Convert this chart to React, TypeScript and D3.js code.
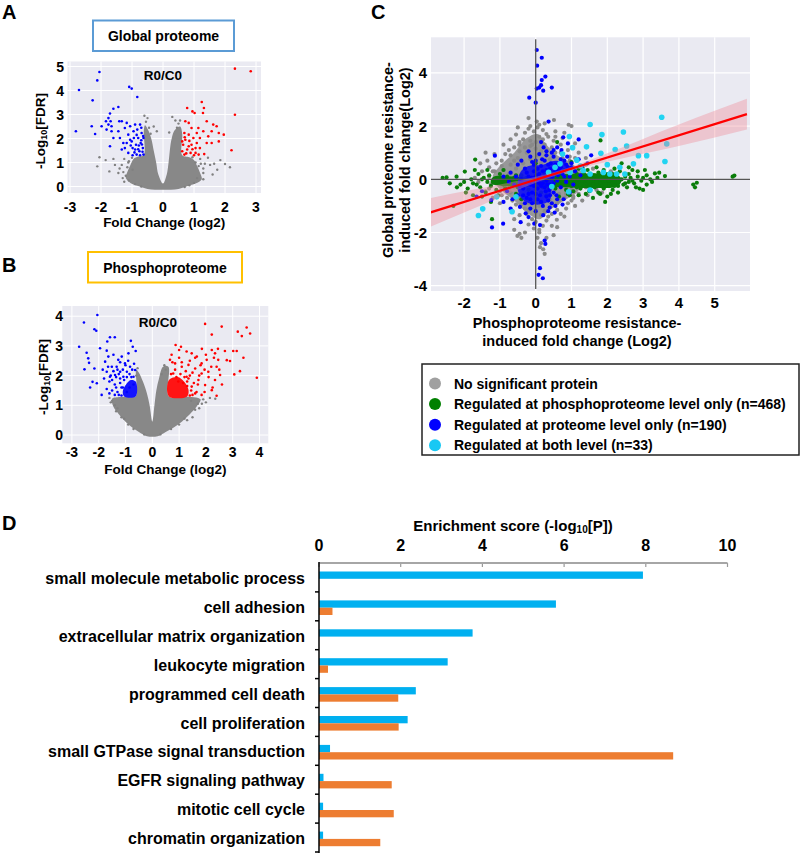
import React from "react";
import * as d3 from "d3";

const FONT = "'Liberation Sans', Arial, Helvetica, sans-serif";

// ---------- Panel A: global proteome volcano ----------
const aTicksX = [-3, -2, -1, 0, 1, 2, 3];
const aTicksY = [0, 1, 2, 3, 4, 5];
const aGrayCloud: [number, number][] = [
  [0, 0.12], [-0.15, 0.5], [-0.22, 1.0], [-0.3, 1.5], [-0.38, 2.0], [-0.48, 2.35], [-0.58, 2.55], [-0.62, 2.3],
  [-0.62, 1.3], [-0.8, 1.25], [-0.95, 1.15], [-1.05, 0.9], [-1.15, 0.6], [-1.2, 0.35], [-1.05, 0.15], [-0.8, 0.02],
  [-0.5, -0.1], [0, -0.14], [0.5, -0.1], [0.8, 0.02], [1.05, 0.12], [1.25, 0.3], [1.2, 0.55], [1.1, 0.85],
  [1.0, 1.1], [0.85, 1.22], [0.62, 1.3], [0.62, 2.2], [0.55, 2.5], [0.38, 2.35], [0.28, 2.0], [0.22, 1.5],
  [0.18, 1.0], [0.12, 0.5],
];
const aGray: [number, number][] = [
  [-2.12, 0.84], [-2.05, 1.22], [-1.85, 1.1], [-1.73, 0.63], [-1.6, 1.15], [-1.55, 0.9], [-1.44, 0.56], [-1.4, 0.75],
  [-1.33, 0.9], [-1.3, 0.35], [-1.25, 1.15], [-1.2, 0.45], [-1.15, 0.8], [-1.1, 1.05], [-1.0, 1.2], [-0.98, 0.7],
  [-0.6, 2.95], [-0.5, 2.85], [-0.55, 2.7], [-0.45, 2.45], [-0.4, 2.2], [-0.9, 0.1], [-0.7, 0.0], [-1.1, 0.25],
  [0.3, 2.9], [0.4, 2.75], [0.5, 2.62], [0.45, 2.45], [0.55, 2.75], [0.95, 1.22], [1.05, 1.0], [1.15, 0.85],
  [1.2, 1.15], [1.3, 0.56], [1.35, 0.95], [1.45, 1.2], [1.52, 0.9], [1.6, 0.5], [1.65, 0.95], [1.75, 0.7],
  [1.85, 1.1], [2.0, 0.94], [2.16, 0.8], [1.1, 0.35], [1.0, 0.15], [0.85, 0.05], [1.3, 0.3], [0.7, -0.02],
  [-1.25, 0.2], [-1.28, 0.6], [-1.12, 1.0], [-0.2, 2.3], [0.2, 2.25], [1.3, 0.75], [1.22, 0.95], [-0.3, 2.5],
];
const aBlue: [number, number][] = [
  [-2.05, 4.77], [-2.12, 4.42], [-2.71, 4.02], [-2.27, 3.59], [-1.09, 4.15], [-1.01, 4.08], [-0.83, 3.73],
  [-1.44, 3.31], [-1.6, 3.24], [-1.71, 3.04], [-1.76, 2.85], [-2.81, 2.3], [-2.3, 2.51], [-2.19, 2.19],
  [-1.98, 2.51], [-1.84, 2.72], [-1.82, 2.37], [-1.76, 2.58], [-1.69, 2.72], [-1.66, 2.51], [-1.66, 2.3],
  [-1.71, 1.68], [-1.6, 2.02], [-1.41, 2.72], [-1.33, 2.72], [-1.44, 2.3], [-1.39, 2.02], [-1.33, 1.54],
  [-1.23, 2.44], [-1.17, 2.65], [-1.12, 2.16], [-1.06, 2.51], [-1.01, 1.88], [-0.98, 1.6], [-0.94, 2.02],
  [-0.9, 2.58], [-0.87, 1.74], [-0.83, 2.37], [-0.8, 2.02], [-0.76, 1.47], [-0.74, 2.58], [-0.72, 1.81],
  [-0.69, 2.23], [-0.65, 1.6], [-0.63, 2.02], [-0.63, 1.33], [-1.12, 1.4], [-1.23, 1.6], [-1.28, 1.81],
  [-0.85, 1.33], [-0.98, 1.3], [-0.74, 1.3], [-1.04, 1.71], [-0.9, 1.54], [-0.78, 1.71], [-0.7, 1.93],
  [-1.17, 1.81], [-0.66, 1.45], [-0.7, 2.45], [-0.95, 2.3], [-0.85, 2.15], [-0.68, 1.75], [-0.8, 1.55],
  [-0.92, 1.42], [-1.06, 1.95], [-0.64, 2.1],
];
const aRed: [number, number][] = [
  [2.32, 4.91], [2.83, 4.8], [2.32, 2.99], [2.21, 1.51], [1.25, 3.52], [1.32, 3.27], [0.95, 3.13], [1.02, 3.06],
  [0.78, 3.27], [1.29, 3.06], [0.72, 2.72], [0.83, 2.65], [1.62, 2.58], [1.73, 2.51], [1.96, 2.16], [1.8, 2.23],
  [1.41, 2.72], [1.14, 2.44], [1.09, 2.23], [1.3, 2.3], [1.46, 2.09], [1.57, 1.81], [1.41, 1.81], [1.33, 1.35],
  [1.19, 1.6], [0.98, 2.02], [0.92, 1.74], [0.83, 2.16], [0.72, 1.95], [0.65, 1.74], [0.62, 1.47], [0.78, 1.54],
  [0.89, 1.4], [1.05, 1.4], [1.09, 1.81], [0.69, 2.23], [0.92, 2.44], [1.05, 1.6], [0.69, 1.33], [0.83, 1.68],
  [1.19, 2.02], [0.62, 1.88], [1.57, 2.3], [1.8, 1.88], [0.75, 1.38], [0.95, 1.55], [0.7, 2.05], [1.15, 1.33],
  [0.85, 1.9], [1.0, 1.3],
];

// ---------- Panel B: phosphoproteome volcano ----------
const bTicksX = [-3, -2, -1, 0, 1, 2, 3, 4];
const bTicksY = [0, 1, 2, 3, 4];
const bGrayCloud: [number, number][] = [
  [0, 0.45], [-0.1, 1.0], [-0.2, 1.4], [-0.35, 1.8], [-0.5, 2.1], [-0.6, 2.2], [-0.62, 1.3], [-0.9, 1.3],
  [-1.2, 1.28], [-1.5, 1.22], [-1.45, 0.95], [-1.25, 0.7], [-1.0, 0.45], [-0.75, 0.25], [-0.5, 0.1],
  [-0.2, -0.04], [0.2, -0.04], [0.5, 0.1], [0.8, 0.25], [1.1, 0.45], [1.4, 0.7], [1.65, 0.95], [1.8, 1.2],
  [1.2, 1.3], [0.62, 1.3], [0.6, 2.3], [0.4, 2.3], [0.25, 1.9], [0.15, 1.5], [0.08, 1.0],
];
const bGray: [number, number][] = [
  [-1.6, 1.25], [-1.55, 1.1], [-1.4, 1.0], [-1.35, 0.8], [-1.15, 0.6], [-0.9, 0.35], [1.6, 0.85], [1.7, 1.05],
  [1.9, 1.2], [2.0, 1.1], [2.15, 1.25], [2.35, 1.22], [1.5, 0.6], [1.3, 0.5], [1.45, 1.15], [-0.55, 2.25],
  [-0.6, 2.0], [0.45, 2.35], [0.5, 2.2], [0.35, 2.05], [1.75, 0.9], [1.85, 1.05], [-1.5, 1.15], [-1.3, 0.9],
  [-1.05, 0.55], [-0.7, 0.2], [0.7, 0.2], [1.0, 0.35], [1.2, 0.55], [-0.3, 0.02], [0.3, 0.02],
];
const bBlueCore: [number, number][] = [
  [-1.05, 1.3], [-0.62, 1.3], [-0.62, 1.8], [-0.8, 1.85], [-0.98, 1.7], [-1.1, 1.48],
];
const bRedCore: [number, number][] = [
  [0.62, 1.3], [1.3, 1.3], [1.35, 1.52], [1.18, 1.8], [0.95, 1.95], [0.62, 1.85],
];
const bBlue: [number, number][] = [
  [-2.05, 4.04], [-2.55, 3.79], [-2.16, 3.56], [-2.09, 3.51], [-2.73, 2.97], [-2.45, 2.77], [-2.39, 2.58],
  [-2.53, 2.21], [-2.36, 2.43], [-2.16, 2.24], [-2.23, 1.79], [-2.32, 1.6], [-1.89, 1.35], [-2.07, 1.74],
  [-1.58, 3.29], [-1.4, 3.29], [-1.68, 3.15], [-1.95, 2.92], [-1.7, 2.84], [-0.8, 3.17], [-0.62, 2.83],
  [-0.73, 2.97], [-1.76, 2.47], [-1.64, 2.64], [-1.45, 2.7], [-1.27, 2.53], [-1.14, 2.64], [-1.02, 2.41],
  [-0.89, 2.75], [-1.33, 2.3], [-1.51, 2.3], [-1.7, 2.13], [-1.58, 1.96], [-1.39, 2.02], [-1.2, 2.13],
  [-1.08, 1.96], [-0.95, 2.13], [-0.83, 2.3], [-0.7, 1.96], [-0.64, 2.19], [-1.5, 1.5], [-1.4, 1.7],
  [-1.3, 1.45], [-1.2, 1.9], [-1.15, 1.6], [-1.1, 2.2], [-1.25, 2.05], [-1.35, 1.95], [-1.45, 2.15],
  [-1.55, 2.0], [-1.6, 1.8], [-1.7, 1.55], [-1.8, 1.9], [-1.85, 2.2], [-0.95, 1.95], [-0.85, 2.05],
  [-0.75, 2.2], [-0.68, 2.4], [-0.9, 2.5], [-1.0, 2.35], [-1.3, 2.2], [-0.78, 1.95], [-0.7, 1.7],
  [-0.85, 1.6], [-0.95, 1.45], [-1.05, 1.85], [-1.65, 2.3], [-1.2, 2.45], [-1.25, 1.35], [-1.4, 1.35],
  [-1.6, 1.4], [-1.35, 1.6], [-1.5, 1.85], [-1.15, 1.33], [-1.2, 1.75], [-1.1, 1.6],
];
const bRed: [number, number][] = [
  [1.97, 3.74], [2.59, 3.65], [2.22, 3.38], [3.52, 3.62], [3.19, 3.48], [3.65, 3.42], [3.34, 3.33], [3.9, 1.93],
  [3.4, 2.6], [3.02, 2.83], [3.15, 2.83], [2.71, 2.83], [2.9, 2.49], [3.06, 2.04], [3.27, 2.15], [2.78, 2.52],
  [2.22, 2.86], [2.34, 2.75], [2.46, 2.53], [2.4, 2.3], [2.53, 2.02], [2.34, 1.85], [2.4, 1.32], [2.03, 2.53],
  [1.84, 2.41], [1.66, 2.64], [1.47, 2.75], [1.28, 2.81], [1.07, 2.97], [0.87, 3.03], [1.0, 2.86], [0.72, 2.7],
  [0.66, 2.53], [0.85, 2.41], [1.1, 2.3], [1.35, 2.36], [1.6, 2.24], [1.84, 2.07], [2.09, 2.13], [1.72, 1.85],
  [1.47, 1.63], [1.97, 1.68], [2.22, 1.51], [1.6, 1.4], [1.84, 1.35], [1.28, 1.96], [0.78, 2.07], [0.97, 1.8],
  [1.45, 1.5], [1.55, 1.75], [1.65, 1.45], [1.75, 2.0], [1.5, 2.1], [1.35, 1.9], [1.25, 2.15], [1.1, 2.45],
  [1.0, 2.6], [0.85, 2.2], [0.75, 2.45], [0.7, 2.05], [1.4, 2.5], [1.6, 2.6], [1.8, 2.35], [1.95, 2.2],
  [2.1, 1.95], [2.2, 2.3], [2.25, 1.6], [1.95, 1.45], [1.7, 1.7], [1.3, 1.65], [0.9, 1.95], [1.15, 1.75],
  [2.5, 2.2], [2.6, 1.7], [2.0, 2.7], [2.3, 2.6], [1.85, 2.9], [2.45, 2.9], [1.5, 1.35], [1.4, 2.0],
  [1.4, 1.33], [1.3, 1.8], [1.2, 1.95], [1.05, 2.05],
];

// ---------- Panel C: phospho vs global scatter ----------
const cTicksX = [-2, -1, 0, 1, 2, 3, 4, 5];
const cTicksY = [-4, -2, 0, 2, 4];
const cGrayCore: [number, number][] = [
  [-1.0, 0.5], [-0.6, 1.0], [-0.25, 1.55], [0.05, 1.7], [0.3, 1.3], [0.6, 0.9], [1.05, 0.55], [1.35, 0.1],
  [1.15, -0.5], [0.8, -0.8], [0.4, -1.15], [0.1, -1.5], [-0.25, -1.25], [-0.6, -0.8], [-1.05, -0.3], [-1.2, 0.1],
];
const cGreenCore: [number, number][] = [
  [-1.2, 0.08], [-0.4, 0.1], [0.6, 0.18], [1.4, 0.22], [2.1, 0.18], [2.4, 0.02], [2.3, -0.25], [1.6, -0.33],
  [0.8, -0.3], [0.0, -0.28], [-0.8, -0.26], [-1.25, -0.15],
];
const cBlueCore: [number, number][] = [
  [-0.42, 0.28], [-0.2, 0.5], [0.2, 0.55], [0.55, 0.7], [0.88, 0.6], [0.95, 0.35], [0.6, 0.22], [0.45, -0.35],
  [0.4, -0.78], [0.1, -0.95], [-0.32, -0.82], [-0.5, -0.4],
];
const cGray: [number, number][] = [
  [0.03, 2.17], [0.1, 2.05], [0.51, 2.23], [0.92, 2.05], [-0.55, 1.68], [-0.46, 1.3], [-0.2, 1.9], [-0.05, 1.8],
  [0.2, 1.85], [0.35, 1.6], [-0.35, 1.5], [-0.6, 1.2], [-0.85, 0.95], [-1.1, 0.6], [-1.2, 0.3], [-1.3, 0.1],
  [-1.25, -0.2], [-1.0, -0.45], [-0.8, -0.7], [-0.55, -0.95], [-0.51, -2.13], [-0.45, -2.05], [0.21, -2.63],
  [0.1, -1.9], [0.59, -1.52], [0.3, -1.55], [0.0, -1.25], [-0.3, -1.1], [0.7, -1.3], [0.85, -1.1], [1.0, -0.8],
  [1.2, -0.55], [1.4, -0.3], [1.5, 0.0], [1.3, 0.45], [1.1, 0.8], [0.9, 1.1], [0.7, 1.3], [0.5, 1.45],
  [0.25, 1.3], [0.0, 1.15], [-0.25, 1.0], [-0.5, 0.8], [-0.7, 0.55], [-0.9, 0.35], [-1.05, 0.05], [-0.95, -0.25],
  [-0.7, -0.5], [-0.45, -0.7], [-0.2, -0.9], [0.1, -1.0], [0.4, -1.05], [0.6, -0.9], [0.8, -0.7], [1.0, -0.4],
  [1.15, -0.1], [1.1, 0.25], [0.95, 0.55], [0.75, 0.8], [0.55, 1.0], [0.3, 1.1], [0.05, 0.9], [-0.15, 0.75],
  [-0.35, 0.6], [-0.55, 0.4], [-0.75, 0.2], [-0.8, -0.05], [-0.6, -0.3], [-0.35, -0.45], [-0.1, -0.6],
  [0.15, -0.7], [0.4, -0.75], [0.65, -0.55], [0.85, -0.35], [0.9, -0.05], [0.8, 0.3], [0.6, 0.6], [0.4, 0.75],
  [0.15, 0.6], [-0.05, 0.45], [-0.3, 0.3], [-0.5, 0.1], [-0.4, -0.15], [-0.2, -0.3], [0.0, -0.4], [0.3, -0.45],
  [0.55, -0.3], [0.65, 0.05], [0.45, 0.3], [0.2, 0.35], [-0.1, 0.15], [0.1, 0.05], [0.3, -0.1], [-1.5, 0.3],
  [-1.6, -0.1], [-1.4, -0.45], [-1.2, -0.7], [1.6, 0.4], [1.8, 0.2], [2.0, -0.1], [1.7, -0.4], [-0.9, 1.3],
  [-1.35, 0.7], [0.3, 1.7], [-0.15, 1.45], [0.15, -1.35], [-0.1, -1.5], [0.45, -1.3], [-0.65, -1.2],
  [0.05, -2.2], [0.15, -2.4], [0.25, -2.8], [-0.4, -2.2], [0.55, 1.8], [0.75, 1.55], [-0.3, 1.75], [0.1, 1.6],
  [-0.7, 0.9], [1.2, 1.0], [1.4, 0.8], [-0.6, -1.5], [-0.2, -1.7], [0.45, -1.75], [0.8, -1.4], [1.1, -1.0],
  [1.3, -0.8], [-1.0, -0.9], [-1.15, 0.95], [-0.75, 1.1], [-0.95, 0.7], [-1.1, -0.15], [-0.85, -0.3],
  [1.25, 0.15], [1.35, -0.15], [0.95, 0.85], [-0.45, 1.05], [-0.15, 1.25], [0.15, 1.05], [-0.25, -1.3],
  [0.6, -1.15], [0.25, -1.2], [-0.45, -1.35], [-0.65, -0.8], [1.05, -0.65], [0.2, 1.5], [-0.1, 1.3],
  [-0.15, 2.0], [0.05, 1.95], [0.25, 2.1], [-0.3, 1.2], [-0.6, 0.7], [-0.95, 0.5], [-1.15, 0.3], [-1.3, 0.45],
  [-0.45, 1.4], [0.0, 1.4], [0.45, 1.2], [0.7, 1.0], [0.95, 0.7], [1.2, 0.4], [1.4, 0.55], [1.05, -0.7],
  [0.85, -0.55], [0.65, -0.8], [0.9, -0.9], [0.35, -1.4], [0.0, -1.6], [-0.2, -1.15], [-0.4, -0.95],
  [-0.75, -0.35], [-0.95, -0.6], [-1.3, -0.35], [0.1, -2.0], [0.2, -1.75], [-0.05, -1.85], [0.3, -2.2],
  [0.12, -2.55], [-0.3, -2.0], [0.6, -1.8], [0.5, -2.1], [-0.6, -1.9], [0.8, 1.75], [1.1, 1.35], [0.55, 1.6],
  [-0.5, 1.95], [-0.2, 2.3], [1.0, 2.0], [-0.7, 1.5], [-1.4, 1.0], [-1.55, 0.6], [-1.7, 0.05], [1.6, 0.0],
  [1.75, -0.15], [1.85, -0.5], [2.1, 0.3], [1.45, -0.6],
];
const cGreen: [number, number][] = [
  [-2.6, 0.05], [-2.49, 0.07], [-2.21, 0.1], [-1.98, 0.29], [-1.69, 0.74], [-2.3, -1.0], [-1.22, -1.5],
  [-2.1, -0.2], [-1.9, -0.35], [-1.8, 0.0], [-1.75, -0.15], [-1.6, 0.2], [-1.55, -0.3], [-1.45, 0.05],
  [-1.4, -0.5], [-1.3, 0.15], [-1.25, -0.25], [-1.15, 0.0], [-1.1, -0.4], [-1.0, 0.2], [-0.95, -0.15],
  [-0.85, -0.35], [-0.8, 0.1], [-0.7, -0.2], [-0.6, 0.05], [-0.5, -0.3], [-0.4, 0.15], [-0.3, -0.1],
  [-0.2, -0.4], [-0.1, 0.05], [0.0, -0.2], [0.1, 0.1], [0.2, -0.3], [0.3, 0.0], [0.4, -0.15], [0.5, 0.15],
  [0.55, -0.35], [0.6, -0.05], [0.7, 0.2], [0.75, -0.2], [0.8, 0.05], [0.85, -0.4], [0.9, -0.1], [0.95, 0.15],
  [1.0, -0.25], [1.05, 0.0], [1.1, 0.3], [1.15, -0.15], [1.2, 0.1], [1.25, -0.35], [1.3, -0.05], [1.35, 0.2],
  [1.4, -0.2], [1.45, 0.05], [1.5, -0.45], [1.55, -0.1], [1.6, 0.15], [1.65, -0.3], [1.7, 0.0], [1.75, 0.25],
  [1.8, -0.15], [1.85, 0.1], [1.9, -0.35], [1.95, -0.05], [2.0, 0.2], [2.05, -0.2], [2.1, 0.05], [2.15, -0.4],
  [2.2, -0.1], [2.25, 0.15], [2.3, -0.25], [2.4, 0.0], [2.5, 0.1], [2.55, -0.3], [2.65, 0.05], [2.75, -0.15],
  [2.85, 0.1], [2.95, -0.05], [3.0, -0.4], [3.1, 0.15], [3.2, 0.0], [3.33, 0.22], [3.45, 0.25], [3.61, 0.12],
  [1.94, -0.85], [1.81, 1.46], [1.0, 0.65], [0.6, 1.4], [0.0, 0.6], [-0.4, -0.75], [2.2, 0.4], [2.4, 0.6],
  [1.6, -0.7], [0.3, -0.6], [0.65, -0.65], [1.2, -0.6], [-1.25, -0.85], [-1.75, -0.6], [4.4, -0.2],
  [4.5, -0.13], [4.45, -0.3], [5.5, 0.1], [5.55, 0.14], [0.45, 0.25], [0.8, 0.35], [1.3, 0.45], [1.9, 0.35],
  [2.7, 0.35], [2.9, -0.35], [1.05, -0.45], [0.35, 0.3], [0.15, -0.5], [-0.55, -0.55], [-1.05, -0.6],
  [-0.9, 0.35], [0.25, 0.25], [0.95, -0.6], [1.45, 0.35], [1.75, -0.5], [2.1, -0.55], [2.35, 0.3], [2.6, -0.1],
  [0.65, -0.15], [0.85, 0.1], [1.1, -0.05], [1.25, 0.05], [1.5, 0.1], [1.7, -0.1], [2.0, 0.0], [0.55, 0.05],
  [0.4, -0.05], [1.15, 0.2], [1.6, -0.2], [1.85, -0.25], [0.75, -0.1], [1.4, 0.0],
  [-1.0, -0.05], [-0.9, -0.2], [-0.75, 0.0], [-0.65, -0.1], [-0.55, 0.15], [-0.45, -0.05], [-0.35, -0.25],
  [-0.25, 0.05], [-0.15, -0.15], [0.05, -0.1], [0.15, 0.0], [0.25, -0.15], [0.35, -0.3], [0.45, 0.0],
  [0.5, -0.2], [0.7, -0.05], [0.9, 0.05], [1.0, 0.1], [1.15, -0.3], [1.3, 0.15], [1.35, -0.25], [1.55, 0.1],
  [1.65, 0.15], [1.8, 0.05], [1.95, 0.1], [2.05, -0.05], [2.15, 0.2], [2.2, -0.25], [2.3, 0.05], [2.45, -0.2],
  [2.5, -0.15], [2.6, 0.2], [2.7, -0.05], [2.8, -0.3], [3.0, 0.05], [3.1, -0.2], [3.25, -0.1], [3.4, 0.05],
  [3.05, 0.35], [2.85, 0.3], [-1.35, -0.1], [-1.5, 0.0], [-1.65, -0.2], [-2.0, -0.1], [-2.2, -0.3],
  [-1.95, -0.5], [-1.7, 0.35], [-1.5, -0.65], [-1.35, 0.35], [0.9, -0.55], [1.4, -0.55], [1.8, -0.55],
  [2.3, -0.5], [2.0, -0.65], [0.6, 0.35], [1.2, 0.4], [1.7, 0.45], [2.6, 0.45], [-2.4, -0.15],
];
const cBlue: [number, number][] = [
  [0.03, 4.86], [0.17, 4.57], [0.04, 4.27], [0.27, 3.86], [0.17, 3.73], [0.03, 3.41], [0.1, 3.45], [0.15, 3.54],
  [0.21, 3.33], [0.45, 3.45], [-0.18, 3.07], [0.0, 2.88], [0.36, 2.17], [0.77, 1.58], [-1.14, 0.89],
  [0.12, -1.72], [-0.04, -1.67], [-0.42, -1.61], [-0.91, -1.67], [-1.22, -1.81], [0.25, -2.3], [0.27, -2.43],
  [0.12, -3.34], [0.08, -3.59], [0.2, -3.72], [-0.2, -1.42], [0.21, -1.35], [0.39, -1.06], [0.53, -1.25],
  [-0.44, -1.04], [-0.28, -1.28], [-0.9, -0.85], [-1.24, -0.78], [-0.3, 0.4], [-0.2, 0.1], [-0.15, -0.2],
  [-0.1, -0.5], [-0.05, 0.3], [0.0, -0.1], [0.05, -0.35], [0.1, 0.2], [0.12, -0.6], [0.15, 0.5], [0.2, -0.15],
  [0.25, 0.1], [0.28, -0.45], [0.3, 0.35], [0.35, -0.8], [0.4, -0.2], [0.42, 0.6], [0.45, 0.05], [0.5, -0.5],
  [0.55, 0.3], [0.6, -0.05], [0.65, 0.55], [0.7, -0.3], [0.75, 0.2], [0.8, 0.7], [0.85, -0.1], [0.9, 0.45],
  [0.95, 0.1], [1.0, 0.6], [1.05, -0.2], [-0.25, -0.7], [-0.35, -0.35], [-0.4, 0.0], [-0.5, -0.6], [-0.6, -0.2],
  [-0.7, 0.25], [-0.8, -0.45], [0.0, 0.7], [0.1, 0.95], [0.3, 0.9], [0.5, 0.85], [0.6, 1.2], [0.45, 1.0],
  [-0.1, -0.9], [0.2, -1.0], [0.05, -0.75], [0.3, -0.65], [-0.05, 0.55], [0.18, 0.75], [0.4, 0.4], [0.62, 0.15],
  [0.08, 0.0], [0.25, -0.3], [-0.2, -0.55], [0.35, 0.15], [0.5, -0.15], [0.7, 0.45], [1.1, 0.3], [1.2, 0.75],
  [0.88, 0.85], [-0.15, 0.85], [0.22, 1.2], [-0.5, 0.55], [0.72, 1.1], [1.2, 1.5], [0.9, 1.35], [-0.9, 0.1],
  [-1.5, -0.45], [-1.65, -0.65], [0.95, -0.5], [0.78, -0.75], [0.55, -1.0], [0.15, 1.4], [-0.05, -0.25],
  [0.15, -0.25], [0.32, -0.2], [-0.12, 0.05], [0.02, 0.15], [0.38, -0.4], [0.58, -0.6], [-0.3, -0.9],
  [-0.05, 0.05], [0.1, -0.15], [0.2, 0.3], [0.3, -0.05], [-0.25, 0.25], [-0.35, -0.6], [-0.15, -0.75],
  [0.0, -0.55], [0.15, -0.85], [0.4, -0.6], [0.45, -0.9], [-0.45, -0.25], [-0.55, 0.1], [0.55, 0.55],
  [0.7, 0.75], [0.85, 0.55], [1.0, 0.45], [0.35, 0.55], [0.25, 0.7], [0.05, 0.4], [-0.1, 0.65], [-0.4, 0.7],
  [-0.65, -0.75], [-0.75, -0.1], [0.6, -0.75], [0.65, 0.35], [0.95, 0.3], [0.3, 1.05], [0.5, 1.1],
  [-0.2, 1.05], [0.0, -1.2], [-0.15, -1.1], [0.35, -1.2], [0.75, -0.95], [-0.7, -1.1], [0.8, 0.1],
  [1.25, 0.15], [1.3, 0.5], [1.45, 0.6], [1.55, 0.9],
];
const cCyan: [number, number][] = [
  [3.52, 2.33], [1.52, 2.06], [1.85, 1.68], [2.45, 1.78], [0.94, 1.61], [1.42, 1.22], [1.03, 1.19], [2.22, 1.12],
  [2.54, 1.25], [2.87, 0.89], [3.1, 0.89], [3.66, 1.33], [3.61, 0.67], [2.73, 0.58], [1.82, 0.98], [0.68, 0.58],
  [0.54, 0.45], [0.96, 0.26], [1.33, 0.33], [1.52, 0.2], [1.89, 0.26], [2.07, 0.2], [2.26, 0.2], [2.35, 0.45],
  [2.49, 0.2], [0.92, -0.47], [1.52, -0.4], [0.45, -0.27], [-0.55, -0.66], [-0.66, -1.22], [-1.09, -0.66],
  [-1.48, -1.11], [-1.6, -1.36], [0.36, 0.26], [1.15, 0.72], [0.75, 0.95], [1.25, 0.5], [2.0, 0.55],
];
const regX = [-3, 5.9];
const regY = [-1.27, 2.45];
const bandX = [-3, -2, -1, 0, 0.8, 2, 3, 4, 5, 5.9];
const bandHalf = [0.55, 0.4, 0.24, 0.11, 0.07, 0.16, 0.28, 0.4, 0.5, 0.58];
const legendLabels = [
  "No significant protein",
  "Regulated at phosphoproteome level only (n=468)",
  "Regulated at proteome level only (n=190)",
  "Regulated at both level (n=33)",
];
const legendColors = ["#a0a0a0", "#008000", "#0000ff", "#18c8f4"];

// ---------- Panel D: enrichment bars ----------
const dCategories = [
  "small molecule metabolic process",
  "cell adhesion",
  "extracellular matrix organization",
  "leukocyte migration",
  "programmed cell death",
  "cell proliferation",
  "small GTPase signal transduction",
  "EGFR signaling pathway",
  "mitotic cell cycle",
  "chromatin organization",
];
const dProteome = [7.93, 5.8, 3.76, 3.15, 2.37, 2.17, 0.27, 0.11, 0.1, 0.1];
const dPhospho = [0, 0.33, 0, 0.22, 1.94, 1.95, 8.67, 1.78, 1.83, 1.5];
const dTicks = [0, 2, 4, 6, 8, 10];

type Pt = [number, number];
type Sc = d3.ScaleLinear<number, number>;

function Dots({ data, xs, ys, r, fill, op = 1 }: { data: Pt[]; xs: Sc; ys: Sc; r: number; fill: string; op?: number }) {
  return (
    <g fill={fill} fillOpacity={op}>
      {data.map((d, i) => (
        <circle key={i} cx={xs(d[0])} cy={ys(d[1])} r={r} />
      ))}
    </g>
  );
}

function Cloud({ data, xs, ys, fill, op = 1 }: { data: Pt[]; xs: Sc; ys: Sc; fill: string; op?: number }) {
  const line = d3
    .line<Pt>()
    .x((d) => xs(d[0]))
    .y((d) => ys(d[1]))
    .curve(d3.curveCatmullRomClosed);
  return <path d={line(data) || ""} fill={fill} fillOpacity={op} />;
}

function Volcano(props: {
  xs: Sc; ys: Sc; rect: [number, number, number, number]; ticksX: number[]; ticksY: number[];
  cloud: Pt[]; gray: Pt[]; blue: Pt[]; red: Pt[]; blueCore?: Pt[]; redCore?: Pt[];
  labelX: number; labelY: number; tickLabelY: number; tickLabelX: number; yLabelX: number; yLabelY: number; xLabelY: number;
  clip: string;
}) {
  const { xs, ys, rect } = props;
  const [x0, y0, x1, y1] = rect;
  return (
    <g fontFamily={FONT} fontWeight="bold">
      <defs>
        <clipPath id={props.clip}>
          <rect x={x0} y={y0} width={x1 - x0} height={y1 - y0} />
        </clipPath>
      </defs>
      <rect x={x0} y={y0} width={x1 - x0} height={y1 - y0} fill="#eaeaf2" />
      <g stroke="#ffffff" strokeWidth={1}>
        {props.ticksX.map((t) => (
          <line key={"gx" + t} x1={xs(t)} x2={xs(t)} y1={y0} y2={y1} />
        ))}
        {props.ticksY.map((t) => (
          <line key={"gy" + t} x1={x0} x2={x1} y1={ys(t)} y2={ys(t)} />
        ))}
      </g>
      <g clipPath={`url(#${props.clip})`}>
        <Cloud data={props.cloud} xs={xs} ys={ys} fill="#888888" />
        <Dots data={props.gray} xs={xs} ys={ys} r={1.2} fill="#808080" />
        {props.blueCore && <Cloud data={props.blueCore} xs={xs} ys={ys} fill="#1414ff" />}
        {props.redCore && <Cloud data={props.redCore} xs={xs} ys={ys} fill="#ff1414" />}
        <Dots data={props.blue} xs={xs} ys={ys} r={1.3} fill="#0000ff" />
        <Dots data={props.red} xs={xs} ys={ys} r={1.3} fill="#ff0000" />
      </g>
      <text x={props.labelX} y={props.labelY} fontSize={13.5} textAnchor="middle" dominantBaseline="central">R0/C0</text>
      {props.ticksY.map((t) => (
        <text key={"ly" + t} x={props.tickLabelX} y={ys(t)} fontSize={14} textAnchor="end" dominantBaseline="central">{t}</text>
      ))}
      {props.ticksX.map((t) => (
        <text key={"lx" + t} x={xs(t)} y={props.tickLabelY} fontSize={14} textAnchor="middle" dominantBaseline="central">{t}</text>
      ))}
      <text transform={`translate(${props.yLabelX},${props.yLabelY}) rotate(-90)`} fontSize={13.5} textAnchor="middle" dominantBaseline="central">
        -Log<tspan fontSize={9} dy={4}>10</tspan><tspan dy={-4}>[FDR]</tspan>
      </text>
      <text x={(x0 + x1) / 2} y={props.xLabelY} fontSize={13.5} textAnchor="middle" dominantBaseline="central">Fold Change (log2)</text>
    </g>
  );
}

export default function App() {
  const xA = d3.scaleLinear().domain([-3, 3]).range([70, 256]);
  const yA = d3.scaleLinear().domain([0, 5]).range([186.5, 66.5]);
  const xB = d3.scaleLinear().domain([-3, 4]).range([71.9, 259.5]);
  const yB = d3.scaleLinear().domain([0, 4]).range([435, 316.2]);
  const xC = d3.scaleLinear().domain([-2, 5]).range([464.1, 714.7]);
  const yC = d3.scaleLinear().domain([-4, 4]).range([285.7, 72.9]);
  const xD = d3.scaleLinear().domain([0, 10]).range([319, 727.5]);
  const yD = d3.scaleBand<string>().domain(dCategories).range([563, 852]);

  const cRect: [number, number, number, number] = [431, 37.3, 750, 291];
  const regLine = d3.line<number>().x((d) => xC(d)).y((_, i) => yC(regY[i]));
  const slope = (regY[1] - regY[0]) / (regX[1] - regX[0]);
  const bandData = bandX.map((x, i) => ({ x, c: regY[0] + slope * (x - regX[0]), h: bandHalf[i] }));
  const bandArea = d3
    .area<{ x: number; c: number; h: number }>()
    .x((d) => xC(d.x))
    .y0((d) => yC(d.c - d.h))
    .y1((d) => yC(d.c + d.h))
    .curve(d3.curveMonotoneX);

  const bw = yD.bandwidth();

  return (
    <svg width={800} height={854} style={{ position: "absolute", left: 0, top: 0, background: "#fff" }} fontFamily={FONT}>
      {/* Panel letters */}
      <g fontWeight="bold" fontSize={20} fontFamily={FONT}>
        <text x={2} y={19}>A</text>
        <text x={2} y={272}>B</text>
        <text x={371} y={19}>C</text>
        <text x={2} y={530}>D</text>
      </g>

      {/* Panel A */}
      <rect x={93} y={20.5} width={141} height={30.5} fill="#fff" stroke="#5b9bd5" strokeWidth={2} />
      <text x={163.5} y={36} fontSize={14} fontWeight="bold" textAnchor="middle" dominantBaseline="central">Global proteome</text>
      <Volcano
        xs={xA} ys={yA} rect={[67.5, 61.5, 261, 193]} ticksX={aTicksX} ticksY={aTicksY}
        cloud={aGrayCloud} gray={aGray} blue={aBlue} red={aRed}
        labelX={163} labelY={75} tickLabelY={207} tickLabelX={64} yLabelX={40} yLabelY={131} xLabelY={222} clip="clipA"
      />

      {/* Panel B */}
      <rect x={88} y={252} width={154} height={30.5} fill="#fff" stroke="#ffc000" strokeWidth={2} />
      <text x={165} y={267.5} fontSize={14} fontWeight="bold" textAnchor="middle" dominantBaseline="central">Phosphoproteome</text>
      <Volcano
        xs={xB} ys={yB} rect={[62.3, 306, 268.3, 443.3]} ticksX={bTicksX} ticksY={bTicksY}
        cloud={bGrayCloud} gray={bGray} blue={bBlue} red={bRed} blueCore={bBlueCore} redCore={bRedCore}
        labelX={158} labelY={322} tickLabelY={452} tickLabelX={63} yLabelX={43} yLabelY={377} xLabelY={469} clip="clipB"
      />

      {/* Panel C */}
      <g fontFamily={FONT} fontWeight="bold">
        <defs>
          <clipPath id="clipC">
            <rect x={cRect[0]} y={cRect[1]} width={cRect[2] - cRect[0]} height={cRect[3] - cRect[1]} />
          </clipPath>
        </defs>
        <rect x={cRect[0]} y={cRect[1]} width={cRect[2] - cRect[0]} height={cRect[3] - cRect[1]} fill="#eaeaf2" />
        <g stroke="#fff" strokeWidth={1.2}>
          {cTicksX.map((t) => (
            <line key={t} x1={xC(t)} x2={xC(t)} y1={cRect[1]} y2={cRect[3]} />
          ))}
          {cTicksY.map((t) => (
            <line key={t} x1={cRect[0]} x2={cRect[2]} y1={yC(t)} y2={yC(t)} />
          ))}
        </g>
        <g clipPath="url(#clipC)">
          <Cloud data={cGrayCore} xs={xC} ys={yC} fill="#8a8a8a" op={0.85} />
          <Dots data={cGray} xs={xC} ys={yC} r={2.1} fill="#8a8a8a" />
          <Cloud data={cGreenCore} xs={xC} ys={yC} fill="#0a7d0a" />
          <Dots data={cGreen} xs={xC} ys={yC} r={2.1} fill="#0a7d0a" />
          <Cloud data={cBlueCore} xs={xC} ys={yC} fill="#1010f5" op={0.9} />
          <Dots data={cBlue} xs={xC} ys={yC} r={2.1} fill="#0000ff" />
          <line x1={xC(0)} x2={xC(0)} y1={cRect[1] + 2} y2={cRect[3] - 2} stroke="#555" strokeWidth={1.3} />
          <line x1={cRect[0]} x2={cRect[2]} y1={yC(0)} y2={yC(0)} stroke="#555" strokeWidth={1.3} />
          <Dots data={cCyan} xs={xC} ys={yC} r={2.8} fill="#22d4f2" />
          <path d={bandArea(bandData) || ""} fill="#f08a96" fillOpacity={0.38} />
          <path d={regLine(regX) || ""} stroke="#ff0000" strokeWidth={2.2} fill="none" />
        </g>
        {cTicksY.map((t) => (
          <text key={t} x={427} y={yC(t)} fontSize={15} textAnchor="end" dominantBaseline="central">{t}</text>
        ))}
        {cTicksX.map((t) => (
          <text key={t} x={xC(t)} y={302} fontSize={15} textAnchor="middle" dominantBaseline="central">{t}</text>
        ))}
        <g transform="translate(396,160) rotate(-90)" fontSize={14.5} textAnchor="middle">
          <text x={0} y={-8} dominantBaseline="central">Global proteome resistance-</text>
          <text x={0} y={9} dominantBaseline="central">induced fold change(Log2)</text>
        </g>
        <text x={577} y={323} fontSize={14.5} textAnchor="middle" dominantBaseline="central">Phosphoproteome resistance-</text>
        <text x={577} y={341} fontSize={14.5} textAnchor="middle" dominantBaseline="central">induced fold change (Log2)</text>

        {/* Legend */}
        <rect x={422} y={364} width={377} height={91} fill="#fff" stroke="#222" strokeWidth={1.5} />
        {legendLabels.map((l, i) => (
          <g key={l}>
            <circle cx={435} cy={383.5 + i * 20.6} r={6} fill={legendColors[i]} />
            <text x={454} y={383.5 + i * 20.6} fontSize={14} dominantBaseline="central">{l}</text>
          </g>
        ))}
      </g>

      {/* Panel D */}
      <g fontFamily={FONT} fontWeight="bold">
        <text x={513} y={525} fontSize={15} textAnchor="middle" dominantBaseline="central">
          Enrichment score (-log<tspan fontSize={10} dy={4}>10</tspan><tspan dy={-4}>[P])</tspan>
        </text>
        {dTicks.map((t) => (
          <g key={t}>
            <text x={xD(t)} y={545} fontSize={16} textAnchor="middle" dominantBaseline="central">{t}</text>
            <line x1={xD(t)} x2={xD(t)} y1={563} y2={567} stroke="#999" strokeWidth={1.2} />
          </g>
        ))}
        <line x1={xD(0)} x2={xD(10)} y1={563} y2={563} stroke="#a6a6a6" strokeWidth={2} />
        {dCategories.map((c, i) => {
          const y0 = yD(c) as number;
          return (
            <g key={c}>
              <rect x={xD(0)} y={y0 + 8.5} width={xD(dProteome[i]) - xD(0)} height={7.3} fill="#00b0f0" />
              <rect x={xD(0)} y={y0 + 15.8} width={xD(dPhospho[i]) - xD(0)} height={7.3} fill="#ed7d31" />
              <text x={305} y={y0 + 15.5} fontSize={16} textAnchor="end" dominantBaseline="central">{c}</text>
              <line x1={xD(0) - 4} x2={xD(0)} y1={y0 + bw} y2={y0 + bw} stroke="#000" strokeWidth={1.5} />
            </g>
          );
        })}
        <line x1={xD(0)} x2={xD(0)} y1={562} y2={853} stroke="#000" strokeWidth={1.5} />
      </g>
    </svg>
  );
}
